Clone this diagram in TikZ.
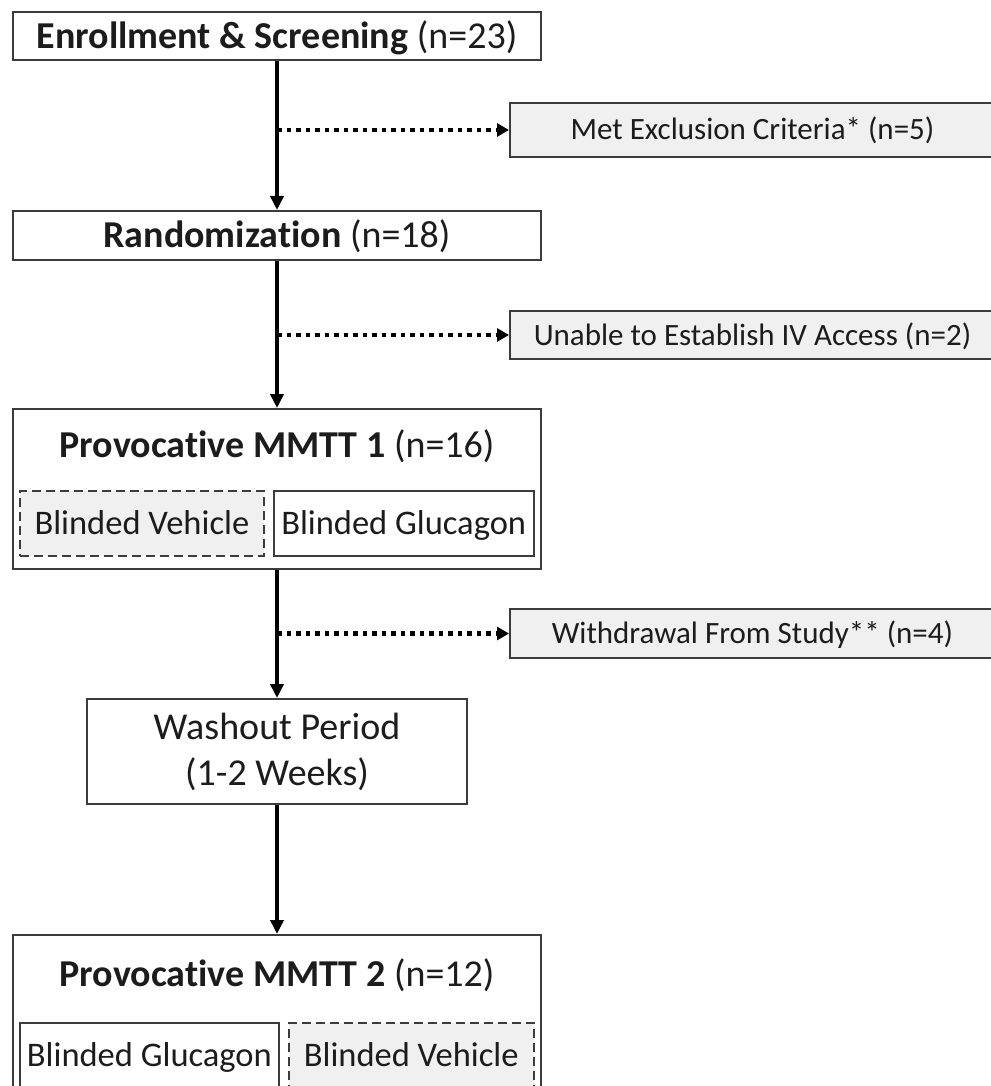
\documentclass[tikz,border=0pt]{standalone}
\usepackage{fontspec}
\setmainfont[Ligatures=NoCommon]{Carlito}
\usetikzlibrary{positioning,arrows.meta}
\definecolor{boxgray}{HTML}{F0F0F0}
\definecolor{linegray}{HTML}{3C3C3C}
\definecolor{textgray}{HTML}{1C1C1C}

\begin{document}
\begin{tikzpicture}[x=1pt,y=-1pt,>={Triangle[length=14pt,width=13pt]},
  main node/.style={draw=linegray,line width=2pt,minimum width=528pt,inner sep=0pt,text=textgray,text height=30pt,text depth=5.5pt,font=\fontsize{38}{46}\selectfont},
  side node/.style={draw=linegray,line width=2pt,fill=boxgray,minimum width=485pt,inner sep=0pt,text=textgray,text height=24pt,text depth=4pt,font=\fontsize{31}{36}\selectfont},
  sub node/.style={draw=linegray,line width=1.8pt,inner sep=0pt,text=textgray,text height=27pt,text depth=4.8pt,font=\fontsize{34.5}{40}\selectfont},
  dash box/.style={dash pattern=on 9pt off 5pt,fill=boxgray},
  flow/.style={->,line width=3.5pt},
  drop/.style={-{Triangle[length=12pt,width=13pt]},line width=4.5pt,dash pattern=on 4.5pt off 5pt}]

                \useasboundingbox (0,0) rectangle (990,1086);

                \node[main node, minimum height=48pt] (1) at (277,36) {\textbf{Enrollment \& Screening} (n=23)};
                \node[main node, minimum height=49pt] (2) [below=149pt of 1] {\textbf{Randomization} (n=18)};
                \node[main node, minimum height=160pt] (3) [below=147pt of 2] {};
                \node[main node, minimum width=380pt, minimum height=105pt, align=center, text height=, text depth=] (4) [below=128pt of 3] {Washout Period\\(1-2 Weeks)};
                \node[main node, minimum height=175pt] (5) [below=129pt of 4] {};

                \node[main node, draw=none] (3t) at ([yshift=-37pt]3.north) {\textbf{Provocative MMTT 1} (n=16)};
                \node[sub node, dash box, minimum width=244pt, minimum height=65pt] (3a) [above right=13pt and 7pt of 3.south west] {Blinded Vehicle};
                \node[sub node, minimum width=260pt, minimum height=65pt] (3b) [right=8pt of 3a] {Blinded Glucagon};

                \node[main node, draw=none] (5t) at ([yshift=-40pt]5.north) {\textbf{Provocative MMTT 2} (n=12)};
                \node[sub node, minimum width=259pt, minimum height=64pt] (5a) [below right=88pt and 7pt of 5.north west] {Blinded Glucagon};
                \node[sub node, dash box, minimum width=245pt, minimum height=64pt] (5b) [right=8pt of 5a] {Blinded Vehicle};

                \node[side node, minimum height=54pt] (6) at (752.5,130) {Met Exclusion Criteria* (n=5)};
                \node[side node, minimum height=48pt] (7) at (752.5,335) {Unable to Establish IV Access (n=2)};
                \node[side node, minimum height=49pt] (8) at (752.5,633.5) {Withdrawal From Study** (n=4)};

                \coordinate (c6) at (1.south |- 6);
                \coordinate (c7) at (1.south |- 7);
                \coordinate (c8) at (1.south |- 8);

                \draw[flow] (1) to (2);
                \draw[flow] (2) to (3);
                \draw[flow] (3) to (4);
                \draw[flow] (4) to (5);
                \draw[drop] (c6) to (6);
                \draw[drop] (c7) to (7);
                \draw[drop] (c8) to (8);

            \end{tikzpicture}
\end{document}
